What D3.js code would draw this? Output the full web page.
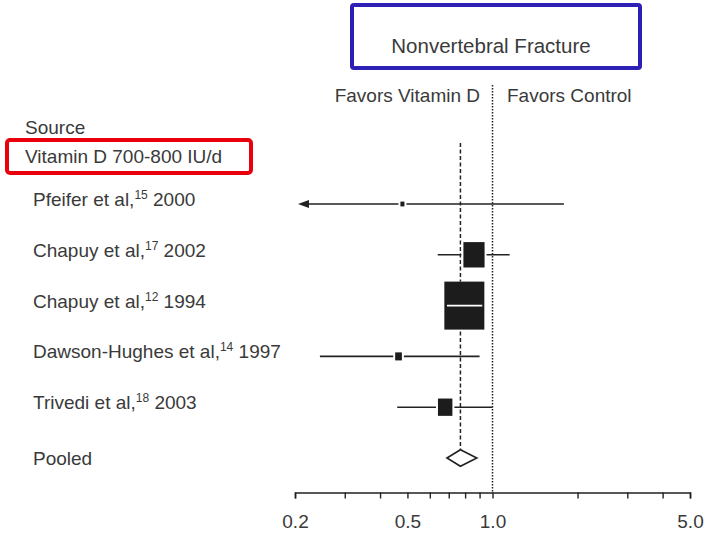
<!DOCTYPE html>
<html>
<head>
<meta charset="utf-8">
<script src="https://cdn.jsdelivr.net/npm/d3@7"></script>
<style>
  body { margin: 0; background: #fff; }
  svg text { font-family: "Liberation Sans", Arial, sans-serif; fill: #3a3a3a; }
</style>
</head>
<body>
<div id="chart"></div>
<script>
// data (relative risk, 95% CI, weight %)
const studies   = ["Pfeifer", "Chapuy2002", "Chapuy1994", "DawsonHughes", "Trivedi"];
const names     = ["Pfeifer et al,", "Chapuy et al,", "Chapuy et al,", "Dawson-Hughes et al,", "Trivedi et al,"];
const refs      = ["15", "17", "12", "14", "18"];
const years     = ["2000", "2002", "1994", "1997", "2003"];
const rr        = [0.48, 0.86, 0.795, 0.465, 0.68];
const lower     = [0.15, 0.64, 0.69, 0.245, 0.46];
const upper     = [1.79, 1.15, 0.92, 0.90, 1.0];
const weights   = [0.5, 14, 50, 1.4, 6.5];

const pooledRR    = 0.77;
const pooledLower = 0.69;
const pooledUpper = 0.88;

const tickValues = [0.2, 0.3, 0.4, 0.5, 0.6, 0.7, 0.8, 0.9, 1, 2, 3, 4, 5];
const tickLabels = { 0.2: "0.2", 0.5: "0.5", 1: "1.0", 5: "5.0" };

let width = 704;
let height = 535;
let axisY = 492.5;
let boxRatio = 1.2;

let svg = d3.select("#chart")
            .append("svg")
            .attr("width", width)
            .attr("height", height);

let xScale, yScale, sizeScale;

function generateScales() {
  xScale = d3.scaleLog()
             .domain([0.2, 5])
             .range([295, 690]);

  yScale = d3.scalePoint()
             .domain(studies.concat(["Pooled"]))
             .range([204, 458]);

  sizeScale = d3.scaleSqrt()
                .domain([0, 50])
                .range([0, 40]);
}

function drawHeader() {
  // title box
  svg.append("rect")
     .attr("x", 352).attr("y", 5)
     .attr("width", 288).attr("height", 63)
     .attr("rx", 2)
     .attr("fill", "none")
     .attr("stroke", "#2e20b4")
     .attr("stroke-width", 4);

  svg.append("text")
     .attr("x", 491).attr("y", 53)
     .attr("text-anchor", "middle")
     .style("font-size", "20.5px")
     .text("Nonvertebral Fracture");

  svg.append("text")
     .attr("x", 480).attr("y", 102)
     .attr("text-anchor", "end")
     .style("font-size", "19px")
     .text("Favors Vitamin D");

  svg.append("text")
     .attr("x", 507).attr("y", 102)
     .style("font-size", "19px")
     .text("Favors Control");

  svg.append("text")
     .attr("x", 25).attr("y", 134)
     .style("font-size", "19px")
     .text("Source");

  // red highlight box
  svg.append("rect")
     .attr("x", 7).attr("y", 140)
     .attr("width", 244).attr("height", 33)
     .attr("rx", 3)
     .attr("fill", "none")
     .attr("stroke", "#e8000c")
     .attr("stroke-width", 4);

  svg.append("text")
     .attr("x", 25).attr("y", 163)
     .style("font-size", "19px")
     .text("Vitamin D 700-800 IU/d");
}

function drawLabels() {
  let labels = svg.selectAll(".study-label")
                  .data(studies)
                  .enter()
                  .append("text")
                  .attr("class", "study-label")
                  .attr("x", 33)
                  .attr("y", d => yScale(d) + 2)
                  .style("font-size", "19px");

  labels.append("tspan").text((d, i) => names[i]);
  labels.append("tspan")
        .attr("dy", -7)
        .style("font-size", "12px")
        .text((d, i) => refs[i]);
  labels.append("tspan")
        .attr("dy", 7)
        .text((d, i) => " " + years[i]);

  svg.append("text")
     .attr("x", 33)
     .attr("y", yScale("Pooled") + 7)
     .style("font-size", "19px")
     .text("Pooled");
}

function drawRefLines() {
  // no-effect line at 1.0
  svg.append("line")
     .attr("x1", xScale(1)).attr("x2", xScale(1))
     .attr("y1", 85).attr("y2", axisY)
     .attr("stroke", "#222")
     .attr("stroke-width", 1.5)
     .attr("stroke-dasharray", "1.5,1.5");

  // pooled estimate line
  svg.append("line")
     .attr("x1", xScale(pooledRR)).attr("x2", xScale(pooledRR))
     .attr("y1", 143).attr("y2", yScale("Pooled") - 8)
     .attr("stroke", "#222")
     .attr("stroke-width", 1.5)
     .attr("stroke-dasharray", "4,2.5");
}

function drawStudies() {
  const xMin = xScale.domain()[0];
  const w = i => sizeScale(weights[i]);

  // CI lines
  svg.selectAll(".ci")
     .data(studies)
     .enter()
     .append("line")
     .attr("class", "ci")
     .attr("x1", (d, i) => lower[i] < xMin ? xScale(xMin) + 8 : xScale(lower[i]))
     .attr("x2", (d, i) => xScale(upper[i]))
     .attr("y1", d => yScale(d))
     .attr("y2", d => yScale(d))
     .attr("stroke", "#222")
     .attr("stroke-width", 1.6);

  // arrows for CIs running off the scale
  studies.forEach((d, i) => {
    if (lower[i] < xMin) {
      let tip = xScale(xMin) + 3;
      let y = yScale(d);
      svg.append("path")
         .attr("d", `M${tip},${y} L${tip + 11},${y - 4} L${tip + 11},${y + 4} Z`)
         .attr("fill", "#222");
    }
  });

  // small white gap around each box
  svg.selectAll(".box-halo")
     .data(studies)
     .enter()
     .append("rect")
     .attr("class", "box-halo")
     .attr("x", (d, i) => xScale(rr[i]) - w(i) / 2 - 2)
     .attr("y", (d, i) => yScale(d) - w(i) * boxRatio / 2)
     .attr("width", (d, i) => w(i) + 4)
     .attr("height", (d, i) => w(i) * boxRatio)
     .attr("fill", "#fff");

  // weight boxes
  svg.selectAll(".box")
     .data(studies)
     .enter()
     .append("rect")
     .attr("class", "box")
     .attr("x", (d, i) => xScale(rr[i]) - w(i) / 2)
     .attr("y", (d, i) => yScale(d) - w(i) * boxRatio / 2)
     .attr("width", (d, i) => w(i))
     .attr("height", (d, i) => w(i) * boxRatio)
     .attr("fill", "#1c1c1c");

  // CI drawn in white where it lies inside its box
  studies.forEach((d, i) => {
    let x = xScale(rr[i]);
    if (x - w(i) / 2 < xScale(lower[i]) && x + w(i) / 2 > xScale(upper[i])) {
      svg.append("line")
         .attr("class", "ci-inner")
         .attr("x1", xScale(lower[i]))
         .attr("x2", xScale(upper[i]))
         .attr("y1", yScale(d))
         .attr("y2", yScale(d))
         .attr("stroke", "#fff")
         .attr("stroke-width", 1.6);
    }
  });
}

function drawPooled() {
  let y = yScale("Pooled");
  let h = 8.3;
  let pts = [
    [xScale(pooledLower), y],
    [xScale(pooledRR), y - h],
    [xScale(pooledUpper), y],
    [xScale(pooledRR), y + h]
  ];
  svg.append("path")
     .attr("d", d3.line()(pts) + "Z")
     .attr("fill", "#fff")
     .attr("stroke", "#222")
     .attr("stroke-width", 1.6);
}

function generateAxis() {
  let xAxis = d3.axisBottom(xScale)
                .tickValues(tickValues)
                .tickSize(6)
                .tickFormat(d => tickLabels[d] || "");

  let g = svg.append("g")
             .attr("transform", `translate(0, ${axisY})`)
             .call(xAxis);

  g.select(".domain").attr("stroke", "#222").attr("stroke-width", 1.6);
  g.selectAll(".tick line").attr("stroke", "#222").attr("stroke-width", 1.4);
  g.selectAll(".tick text")
   .attr("y", 22)
   .style("font-size", "19px")
   .style("font-family", "'Liberation Sans', Arial, sans-serif")
   .attr("fill", "#555");
}

generateScales();
drawHeader();
drawLabels();
drawRefLines();
drawStudies();
drawPooled();
generateAxis();
</script>
</body>
</html>
